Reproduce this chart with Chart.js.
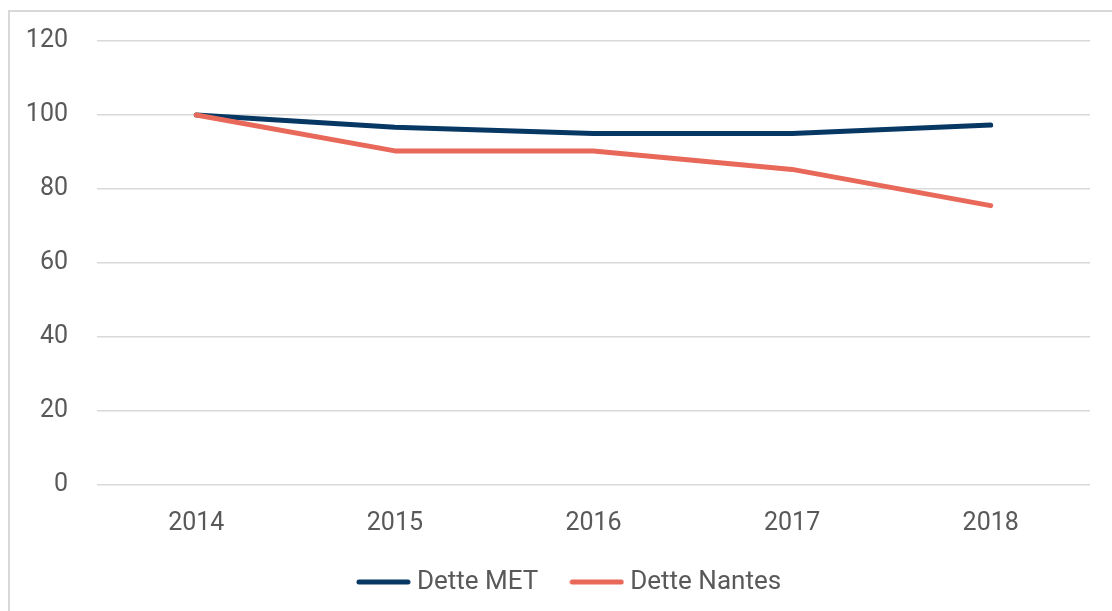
<!DOCTYPE html>
<html>
<head>
<meta charset="utf-8">
<script src="https://cdn.jsdelivr.net/npm/chart.js@4/dist/chart.umd.min.js"></script>
<style>
  html, body { margin: 0; padding: 0; background: #fff; overflow: hidden; }
  #frame { position: absolute; left: 8px; top: 10px; width: 1200px; height: 700px;
           border-left: 2px solid #d9d9d9; border-top: 2px solid #d9d9d9; box-sizing: border-box; }
  #wrap { position: absolute; left: 0; top: 0; width: 1112px; height: 611px; }
</style>
</head>
<body>
<div id="frame"></div>
<div id="wrap"><canvas id="c" width="1112" height="611"></canvas></div>
<script>
const categories = ['2014', '2015', '2016', '2017', '2018'];
const detteMET = [100, 96.7, 95.0, 95.0, 97.3];
const detteNantes = [100, 90.3, 90.3, 85.3, 75.5];
const seriesNames = ['Dette MET', 'Dette Nantes'];
const yTicks = [0, 20, 40, 60, 80, 100, 120];

const navy = '#073763';
const coral = '#E8695A';
const textColor = '#595959';
const fontFamily = 'Roboto, "DejaVu Sans", sans-serif';

function legendLine(color) {
  const c = document.createElement('canvas');
  c.width = 55; c.height = 6;
  const g = c.getContext('2d');
  g.strokeStyle = color; g.lineWidth = 5; g.lineCap = 'round';
  g.beginPath(); g.moveTo(3, 3); g.lineTo(52, 3); g.stroke();
  return c;
}

const unclipY = {
  id: 'unclipY',
  afterLayout(chart) { chart.scales.y.left = 0; }
};

new Chart(document.getElementById('c'), {
  type: 'line',
  data: {
    labels: categories,
    datasets: [
      { label: seriesNames[0], data: detteMET, borderColor: navy, backgroundColor: navy,
        borderWidth: 5, pointRadius: 0, tension: 0, borderCapStyle: 'round', borderJoinStyle: 'round', order: 1 },
      { label: seriesNames[1], data: detteNantes, borderColor: coral, backgroundColor: coral,
        borderWidth: 5, pointRadius: 0, tension: 0, borderCapStyle: 'round', borderJoinStyle: 'round', order: 0 }
    ]
  },
  plugins: [unclipY],
  options: {
    responsive: false,
    animation: false,
    devicePixelRatio: 1,
    layout: { padding: { left: 54, right: 22, top: 41, bottom: 6 } },
    plugins: {
      tooltip: { enabled: false },
      legend: {
        position: 'bottom',
        labels: {
          sort: (a, b) => a.datasetIndex - b.datasetIndex,
          color: textColor,
          font: { family: fontFamily, size: 26 },
          usePointStyle: true,
          pointStyleWidth: 41,
          padding: 38,
          generateLabels: (chart) => chart.data.datasets.map((ds, i) => ({
            text: ds.label, fillStyle: ds.borderColor, strokeStyle: ds.borderColor,
            lineWidth: 0, datasetIndex: i, fontColor: textColor,
            pointStyle: legendLine(ds.borderColor)
          }))
        }
      }
    },
    scales: {
      x: {
        offset: true,
        grid: { display: false, drawTicks: false },
        border: { display: false },
        ticks: { color: textColor, font: { family: fontFamily, size: 25 }, padding: 24 },
        afterFit: (s) => { s.height = 46; }
      },
      y: {
        min: 0, max: 120,
        afterBuildTicks: (s) => { s.ticks = yTicks.map(v => ({ value: v })); },
        grid: { color: '#d9d9d9', lineWidth: 1.5, drawTicks: false },
        border: { display: false },
        ticks: { color: textColor, font: { family: fontFamily, size: 25 }, padding: 29 },
        afterFit: (s) => { s.width = 43; s.paddingTop = 0; s.paddingBottom = 0; }
      }
    }
  }
});
</script>
</body>
</html>
